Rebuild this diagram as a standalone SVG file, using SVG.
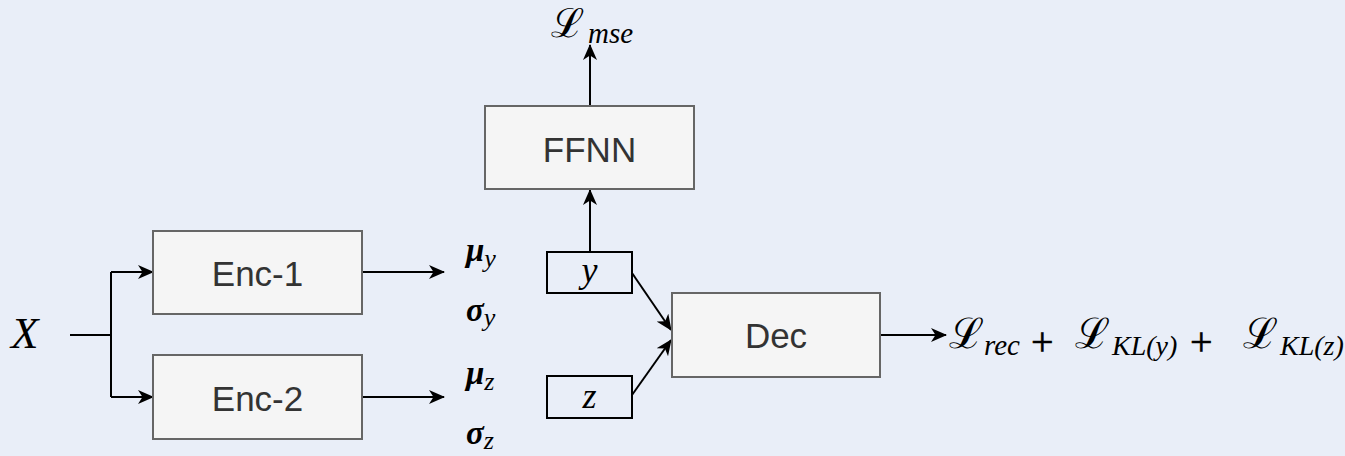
<svg xmlns="http://www.w3.org/2000/svg" width="1345" height="456" viewBox="0 0 1345 456">
<defs>
<marker id="arr" viewBox="0 0 16 14" refX="15" refY="7" markerWidth="16" markerHeight="14" markerUnits="userSpaceOnUse" orient="auto">
<path d="M0,0 L16,7 L0,14 L4.5,7 z" fill="#000"/>
</marker>
<style>
.box{fill:#F5F5F5;stroke:#666666;stroke-width:2}
.var{fill:none;stroke:#000;stroke-width:2}
.lbl{font-family:"Liberation Sans",Arial,sans-serif;font-size:35px;fill:#333333;text-anchor:middle}
.math{font-family:"Liberation Serif","DejaVu Serif",serif;font-style:italic;fill:#000}
.grk{font-family:"Liberation Serif","DejaVu Serif",serif;font-style:italic;font-weight:bold;fill:#000}
.scr{font-family:"DejaVu Serif","Liberation Serif",serif;font-style:normal;fill:#000}
.plus{font-family:"Liberation Serif","DejaVu Serif",serif;font-size:40px;fill:#000;stroke:#000;stroke-width:0.6}
.con{fill:none;stroke:#000;stroke-width:2}
</style>
</defs>
<rect width="1345" height="456" fill="#E9EEF8"/>
<g id="connectors">
<path class="con" d="M70 335 H111"/>
<path class="con" d="M111 272 V397"/>
<path class="con" d="M111 272 H153" marker-end="url(#arr)"/>
<path class="con" d="M111 397 H153" marker-end="url(#arr)"/>
<path class="con" d="M362 272 H444" marker-end="url(#arr)"/>
<path class="con" d="M362 397 H444" marker-end="url(#arr)"/>
<path class="con" d="M590 252 V190" marker-end="url(#arr)"/>
<path class="con" d="M590 106 V45" marker-end="url(#arr)"/>
<path class="con" d="M632 273 L671 330" marker-end="url(#arr)"/>
<path class="con" d="M632 395 L671 340" marker-end="url(#arr)"/>
<path class="con" d="M880 335 H946" marker-end="url(#arr)"/>
</g>
<g id="input-x">
<text class="math" x="11" y="348" font-size="45">X</text>
</g>
<g id="enc1">
<rect class="box" x="153" y="231" width="209" height="83"/>
<text class="lbl" x="257.5" y="286">Enc-1</text>
</g>
<g id="enc2">
<rect class="box" x="153" y="355" width="209" height="84"/>
<text class="lbl" x="257.5" y="411">Enc-2</text>
</g>
<g id="params">
<text class="grk" x="466" y="261" font-size="33">μ<tspan class="math" font-weight="normal" font-size="26" dy="6">y</tspan></text>
<text class="grk" x="466" y="321" font-size="33">σ<tspan class="math" font-weight="normal" font-size="26" dy="5">y</tspan></text>
<text class="grk" x="466" y="384" font-size="33">μ<tspan class="math" font-weight="normal" font-size="26" dy="6">z</tspan></text>
<text class="grk" x="466" y="444" font-size="33">σ<tspan class="math" font-weight="normal" font-size="26" dy="5">z</tspan></text>
</g>
<g id="y-node">
<rect class="var" x="547" y="252" width="85" height="41"/>
<text class="math" x="589.5" y="282" font-size="36" text-anchor="middle">y</text>
</g>
<g id="z-node">
<rect class="var" x="547" y="376" width="85" height="42"/>
<text class="math" x="589.5" y="408" font-size="36" text-anchor="middle">z</text>
</g>
<g id="ffnn">
<rect class="box" x="485" y="106" width="209" height="83"/>
<text class="lbl" x="589.5" y="162">FFNN</text>
</g>
<g id="dec">
<rect class="box" x="672" y="293" width="208" height="84"/>
<text class="lbl" x="776" y="348">Dec</text>
</g>
<g id="loss-mse">
<text class="scr" x="551" y="37" font-size="40">ℒ</text>
<text class="math" x="588" y="43" font-size="29">mse</text>
</g>
<g id="loss-total">
<text class="scr" x="949" y="348" font-size="42">ℒ</text>
<text class="math" x="984" y="355" font-size="29">rec</text>
<text class="plus" x="1031" y="355">+</text>
<text class="scr" x="1075" y="348" font-size="42">ℒ</text>
<text class="math" x="1112" y="355" font-size="28">KL(y)</text>
<text class="plus" x="1190" y="355">+</text>
<text class="scr" x="1243" y="348" font-size="42">ℒ</text>
<text class="math" x="1280" y="355" font-size="28">KL(z)</text>
</g>
</svg>
